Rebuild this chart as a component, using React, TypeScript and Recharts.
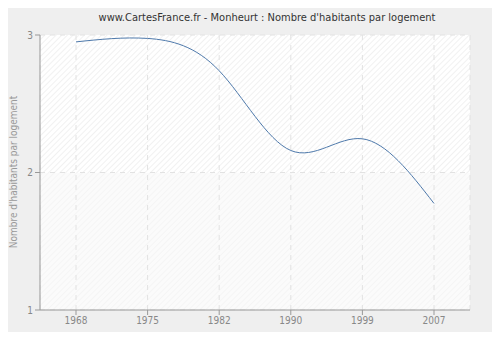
import React from 'react';
import { LineChart, Line, XAxis, YAxis, CartesianGrid } from 'recharts';

const years = ['1968', '1975', '1982', '1990', '1999', '2007'];
const values = [2.95, 2.975, 2.74, 2.16, 2.245, 1.775];
const yTicks = [1, 2, 3];

const data = years.map((y, i) => ({ year: y, v: values[i] }));

const FONT = '"DejaVu Sans Condensed", "DejaVu Sans", Verdana, sans-serif';

export default function App() {
  return (
    <div style={{ position: 'relative', margin: -8, width: 500, height: 340, background: '#ffffff' }}>
      <div
        style={{
          position: 'absolute', left: 3, top: 3, width: 490, height: 330,
          border: '1px solid #dcdcdc', borderRadius: 6, background: '#efefef',
          boxShadow: '1px 1px 2px rgba(0,0,0,0.08)'
        }}
      />
      <div style={{ position: 'absolute', left: 0, top: 0 }}>
        <LineChart width={500} height={340} data={data} margin={{ top: 35, right: 30, bottom: 0, left: 0 }}>
          <defs>
            <pattern id="hatchTop" patternUnits="userSpaceOnUse" width="4" height="4" patternTransform="rotate(45)">
              <rect width="4" height="4" fill="#ffffff" />
              <line x1="0" y1="0" x2="0" y2="4" stroke="#e8e8e8" strokeWidth="1.2" />
            </pattern>
            <pattern id="hatchBot" patternUnits="userSpaceOnUse" width="4" height="4" patternTransform="rotate(45)">
              <rect width="4" height="4" fill="#fbfbfb" />
              <line x1="0" y1="0" x2="0" y2="4" stroke="#f2f2f2" strokeWidth="1.2" />
            </pattern>
          </defs>
          <text x={267} y={21} textAnchor="middle" fontFamily={FONT} fontSize={11} fill="#333333">
            www.CartesFrance.fr - Monheurt : Nombre d'habitants par logement
          </text>
          <text
            x={13}
            y={172}
            transform="rotate(-90 13 172)"
            textAnchor="middle"
            dominantBaseline="central"
            fontFamily={FONT}
            fontSize={10}
            fill="#999999"
          >
            Nombre d'habitants par logement
          </text>
          <CartesianGrid
            stroke="#e2e2e2"
            strokeDasharray="5 5"
            horizontalFill={['url(#hatchTop)', 'url(#hatchBot)']}
            fillOpacity={1}
          />
          <XAxis
            dataKey="year"
            height={30}
            padding={{ left: 36, right: 36 }}
            stroke="#999999"
            tickSize={5}
            tick={{ fill: '#888888', fontSize: 10, fontFamily: FONT }}
            tickLine={{ stroke: '#999999' }}
          />
          <YAxis
            width={40}
            domain={[1, 3]}
            ticks={yTicks}
            stroke="#999999"
            tickSize={5}
            tick={{ fill: '#888888', fontSize: 10, fontFamily: FONT }}
            tickLine={{ stroke: '#999999' }}
          />
          <Line
            type="natural"
            dataKey="v"
            stroke="#4e79ab"
            strokeWidth={1}
            dot={false}
            isAnimationActive={false}
          />
        </LineChart>
      </div>
    </div>
  );
}
